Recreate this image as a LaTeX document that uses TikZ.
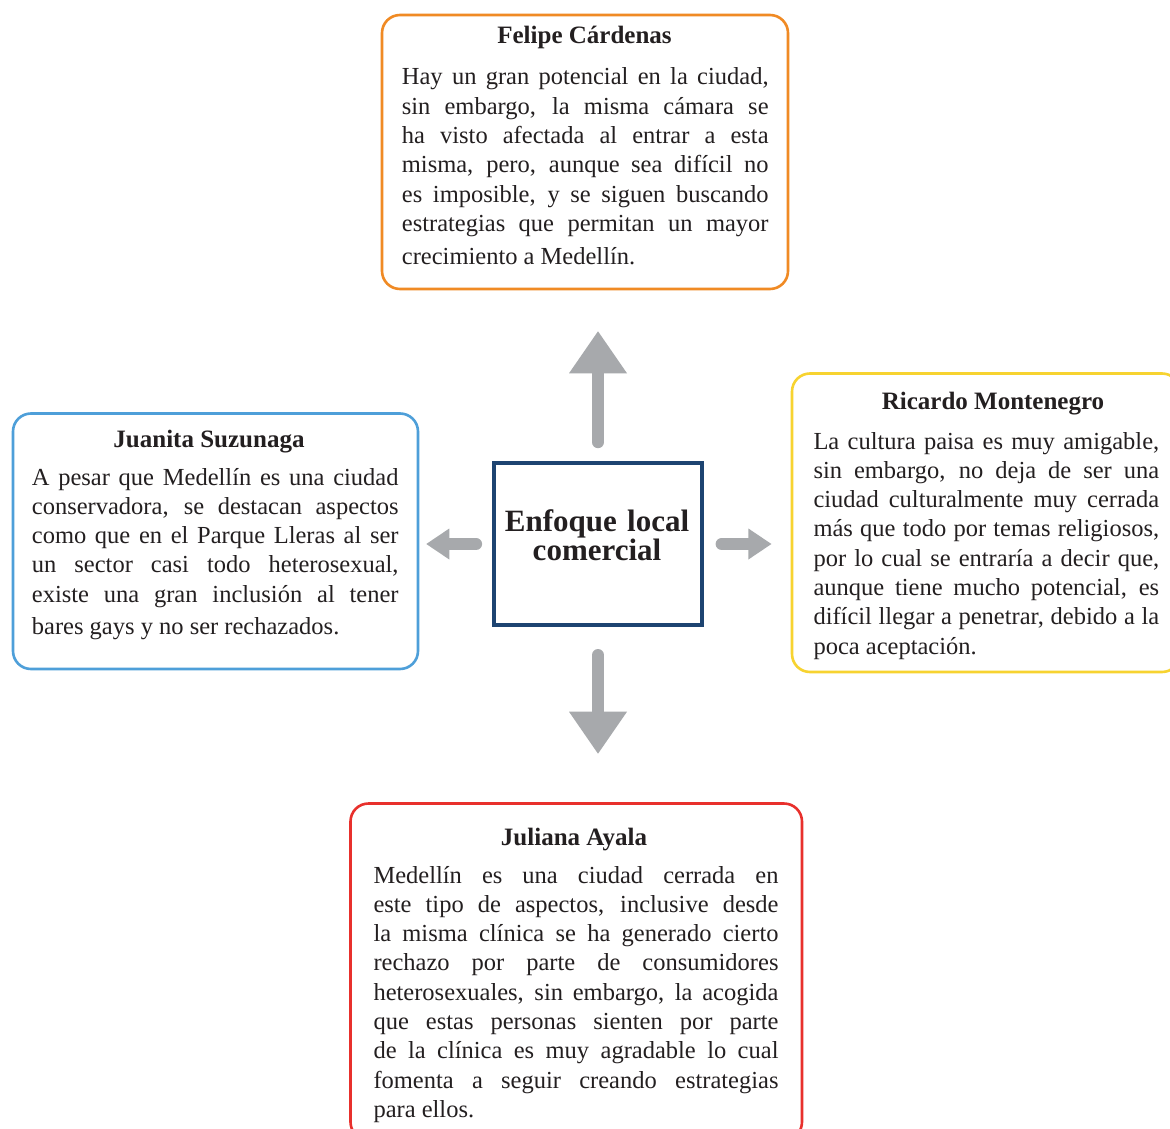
\documentclass[tikz,border=0pt]{standalone}
\usepackage{fontspec}
\setmainfont{Liberation Serif}
\usetikzlibrary{arrows.meta}
\definecolor{cOrange}{HTML}{F08A24}
\definecolor{cBlue}{HTML}{4E9FD9}
\definecolor{cYellow}{HTML}{F7D330}
\definecolor{cRed}{HTML}{E8302C}
\definecolor{cNavy}{HTML}{1D4471}
\definecolor{cGray}{HTML}{A7A9AC}
\definecolor{cText}{HTML}{231F20}
\newcommand\mybodyfont{\fontsize{24.5}{29.3}\selectfont\tolerance=10000\hyphenpenalty=10000\hbadness=10000}
\begin{document}
\begin{tikzpicture}[x=1pt,y=-1pt,
  card/.style={draw=#1, line width=2.6pt, rounded corners=18pt, fill=white, inner sep=0pt},
  titletext/.style={font=\fontsize{25}{28}\selectfont\bfseries, text=cText, anchor=base, inner sep=0pt},
  bodytext/.style={text width=#1, align=justify, anchor=base west, inner sep=0pt, font=\mybodyfont, text=cText},
  bigarrow/.style={draw=cGray, line width=12.3pt, line cap=round, -{Triangle[length=42pt,width=58pt,line width=0pt]}},
  smallarrow/.style={draw=cGray, line width=12.3pt, line cap=round, -{Triangle[length=23pt,width=31pt,line width=0pt]}}
]
\path[use as bounding box, clip] (0,0) rectangle (1170,1129);
\fill[white] (0,0) rectangle (1170,1129);

% cards
\node[card=cOrange, minimum width=406pt, minimum height=274pt] (felipe) at (585,152) {};
\node[card=cBlue, minimum width=405pt, minimum height=255.5pt] (juanita) at (215.5,541.25) {};
\node[card=cYellow, minimum width=388pt, minimum height=298.5pt] (ricardo) at (986,522.75) {};
\node[card=cRed, minimum width=451.5pt, minimum height=336.5pt] (juliana) at (576.25,971.75) {};
\node[draw=cNavy, line width=4.5pt, minimum width=208pt, minimum height=162pt, inner sep=0pt] (center) at (598,544) {};

% central label
\node[text width=210pt, align=center, anchor=base, inner sep=0pt, text=cText,
      font=\fontsize{31}{28}\selectfont\bfseries] (ctext) at (597,531) {Enfoque local\\comercial};

% titles
\node[titletext] (tfelipe) at (584.5,44) {Felipe Cárdenas};
\node[titletext] (tjuanita) at (209,447) {Juanita Suzunaga};
\node[titletext] (tricardo) at (993,409) {Ricardo Montenegro};
\node[titletext] (tjuliana) at (574,845) {Juliana Ayala};

% bodies
\node[bodytext=366.7pt] (bfelipe) at (401.7,85) {Hay un gran potencial en la ciudad,\linebreak
sin embargo, la misma cámara se\linebreak
ha visto afectada al entrar a esta\linebreak
misma, pero, aunque sea difícil no\linebreak
es imposible, y se siguen buscando\linebreak
estrategias que permitan un mayor\linebreak
\rule{0pt}{27pt}crecimiento a Medellín.};

\node[bodytext=366.7pt] (bjuanita) at (31.7,485) {A pesar que Medellín es una ciudad\linebreak
conservadora, se destacan aspectos\linebreak
como que en el Parque Lleras al ser\linebreak
un sector casi todo heterosexual,\linebreak
existe una gran inclusión al tener\linebreak
\rule{0pt}{26pt}bares gays y no ser rechazados.};

\node[bodytext=345.7pt] (bricardo) at (813.3,449) {La cultura paisa es muy amigable,\linebreak
sin embargo, no deja de ser una\linebreak
ciudad culturalmente muy cerrada\linebreak
más que todo por temas religiosos,\linebreak
por lo cual se entraría a decir que,\linebreak
aunque tiene mucho potencial, es\linebreak
difícil llegar a penetrar, debido a la\linebreak
poca aceptación.};

\node[bodytext=405pt] (bjuliana) at (373.3,883) {Medellín es una ciudad cerrada en\linebreak
este tipo de aspectos, inclusive desde\linebreak
la misma clínica se ha generado cierto\linebreak
rechazo por parte de consumidores\linebreak
heterosexuales, sin embargo, la acogida\linebreak
que estas personas sienten por parte\linebreak
de la clínica es muy agradable lo cual\linebreak
fomenta a seguir creando estrategias\linebreak
para ellos.};

% arrows
\draw[bigarrow, shorten <=18.7pt, shorten >=41pt] (center.north) -- (center.north |- felipe.south);
\draw[bigarrow, shorten <=27.9pt, shorten >=48.5pt] (center.south) -- (center.south |- juliana.north);
\draw[smallarrow, shorten <=15.8pt, shorten >=7pt] (center.west) -- (center.west -| juanita.east);
\draw[smallarrow, shorten <=17.5pt, shorten >=19.3pt] (center.east) -- (center.east -| ricardo.west);
\end{tikzpicture}
\end{document}
